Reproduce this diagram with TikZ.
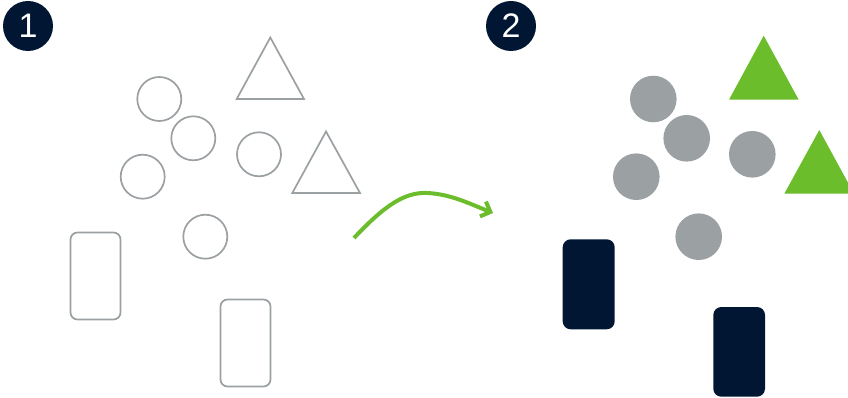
\documentclass[tikz,border=0pt]{standalone}
\usepackage{fontspec}
\setmainfont{Liberation Sans}
\usetikzlibrary{arrows.meta}
\definecolor{shapegray}{HTML}{9BA0A3}
\definecolor{navy}{HTML}{001633}
\definecolor{leaf}{HTML}{6BBD2B}
\tikzset{
  outl/.style={draw=shapegray, line width=1.7pt, fill=none},
  fgray/.style={fill=shapegray, draw=none},
  fnavy/.style={fill=navy, draw=none, rounded corners=8pt},
  fgreen/.style={fill=leaf, draw=none},
  badge/.style={circle, fill=navy, minimum size=50pt, inner sep=0pt, text=white, font=\fontsize{34pt}{34pt}\selectfont},
}
\begin{document}
\begin{tikzpicture}[x=1pt,y=-1pt]
\useasboundingbox (0,0) rectangle (848,398);
\clip (0,0) rectangle (848,398);
% badges
\node[badge] (b1) at (28,26) {1};
\node[badge] (b2) at (511,26) {2};
% left panel
\draw[outl] (159.3,99) circle (22);
\draw[outl] (193.3,138.3) circle (22);
\draw[outl] (142.7,176.7) circle (22);
\draw[outl] (259,154.3) circle (22);
\draw[outl] (205.3,236.7) circle (22);
\draw[outl, line join=miter] (270.3,37.5) -- (304,99) -- (236.7,99) -- cycle;
\draw[outl, line join=miter] (326,131.5) -- (360,193) -- (292.3,193) -- cycle;
\draw[outl, rounded corners=7pt] (70.5,232.5) rectangle (120.5,319.5);
\draw[outl, rounded corners=7pt] (220.5,299.5) rectangle (270.5,386.5);
% arrow
\coordinate (as) at (354,238);
\coordinate (ap) at (427,193);
\coordinate (ae) at (493,213);
\draw[leaf, line width=4pt, -{Straight Barb[length=8pt,width=16pt,line width=4pt]}]
  (as) .. controls (385,205) and (405,192) .. (ap) .. controls (450,194) and (468,203) .. (ae);
% right panel
\fill[fgray] (653.3,99) circle (23.3);
\fill[fgray] (686.7,138.3) circle (23.3);
\fill[fgray] (636.3,176.7) circle (23.3);
\fill[fgray] (752.3,154.3) circle (23.3);
\fill[fgray] (698.7,236.7) circle (23.3);
\fill[fgreen] (763.7,35.7) -- (798.7,99.7) -- (729,99.7) -- cycle;
\fill[fgreen] (819.3,130) -- (854,193.7) -- (784.3,193.7) -- cycle;
\fill[fnavy] (562.7,239.3) rectangle (614.7,329.3);
\fill[fnavy] (713.3,307) rectangle (765,396.7);
\end{tikzpicture}
\end{document}
